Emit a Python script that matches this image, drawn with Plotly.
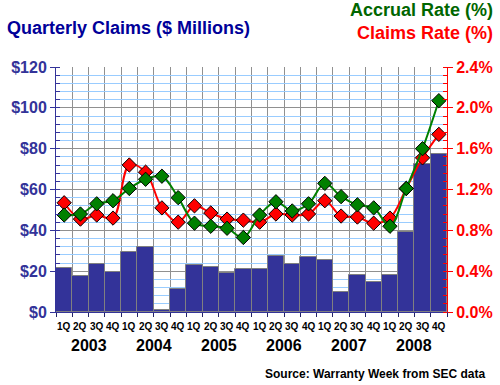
import plotly.graph_objects as go

quarters = ["1Q", "2Q", "3Q", "4Q"] * 6
years = ["2003", "2004", "2005", "2006", "2007", "2008"]
claims = [21.5, 17.6, 23.3, 19.4, 29.6, 31.6, 1.0, 11.1, 22.8, 22.0, 18.9, 21.3,
          21.3, 27.6, 23.4, 26.7, 25.7, 9.6, 18.0, 14.5, 17.9, 39.4, 72.7, 77.4]
accrual_rate = [0.95, 0.96, 1.06, 1.09, 1.21, 1.30, 1.33, 1.12, 0.87, 0.84, 0.82, 0.73,
                0.95, 1.08, 0.99, 1.06, 1.26, 1.13, 1.05, 1.02, 0.84, 1.21, 1.60, 2.07]
claims_rate = [1.07, 0.91, 0.95, 0.92, 1.44, 1.37, 1.02, 0.88, 1.04, 0.97, 0.91, 0.90,
               0.88, 0.96, 0.95, 0.96, 1.09, 0.94, 0.93, 0.87, 0.92, 1.21, 1.51, 1.74]
left_ticks = [0, 20, 40, 60, 80, 100, 120]
left_labels = ["$0", "$20", "$40", "$60", "$80", "$100", "$120"]
right_ticks = [0, 0.4, 0.8, 1.2, 1.6, 2.0, 2.4]
right_labels = ["0.0%", "0.4%", "0.8%", "1.2%", "1.6%", "2.0%", "2.4%"]

FONT = "Liberation Sans, Arial, sans-serif"
NAVY = "#333399"
x = list(range(len(claims)))

fig = go.Figure()
fig.add_trace(go.Bar(x=x, y=claims, width=1, marker=dict(color=NAVY, line=dict(color="#808080", width=1)),
                     showlegend=False))
fig.add_trace(go.Scatter(x=x, y=claims_rate, yaxis="y2", mode="lines+markers",
                         line=dict(color="#ff0000", width=2, shape="spline", smoothing=1),
                         marker=dict(symbol="diamond", size=11, color="#ff0000",
                                     line=dict(color="black", width=1)), showlegend=False))
fig.add_trace(go.Scatter(x=x, y=accrual_rate, yaxis="y2", mode="lines+markers",
                         line=dict(color="#008000", width=2, shape="spline", smoothing=1),
                         marker=dict(symbol="diamond", size=11, color="#008000",
                                     line=dict(color="black", width=1)), showlegend=False))

L, R, T, B = 56, 53, 67, 73
W, H = 500, 385
pw, ph = W - L - R, H - T - B


def px(xp, yp):
    return (xp - L) / pw, (H - B - yp) / ph


annotations = []
for i, q in enumerate(quarters):
    annotations.append(dict(x=i, y=px(0, 326)[1], xref="x", yref="paper", text=q, showarrow=False,
                            font=dict(family=FONT, size=10, color="black", weight="bold"),
                            xanchor="center", yanchor="middle"))
for k, yr in enumerate(years):
    annotations.append(dict(x=4 * k + 1.5, y=px(0, 345)[1], xref="x", yref="paper", text=yr, showarrow=False,
                            font=dict(family=FONT, size=16, color="black", weight="bold"),
                            xanchor="center", yanchor="middle"))

for text, xp, yp, size, color, anchor in [
    ("Quarterly Claims ($ Millions)", 5, 27.5, 18, "#000099", "left"),
    ("Accrual Rate (%)", 495, 10, 18, "#006600", "right"),
    ("Claims Rate (%)", 495, 33.5, 18, "#ff0000", "right"),
    ("Source: Warranty Week from SEC data", 487, 373.5, 12, "black", "right"),
]:
    ax, ay = px(xp, yp)
    annotations.append(dict(x=ax, y=ay, xref="paper", yref="paper", text=text, showarrow=False,
                            font=dict(family=FONT, size=size, color=color, weight="bold"),
                            xanchor=anchor, yanchor="middle"))

fig.update_layout(
    width=W, height=H, margin=dict(l=L, r=R, t=T, b=B, pad=0, autoexpand=False),
    paper_bgcolor="white", plot_bgcolor="white", bargap=0,
    annotations=annotations,
    xaxis=dict(range=[-0.5, 23.5], showticklabels=False, ticks="", showgrid=False, zeroline=False,
               showline=True, linecolor=NAVY, linewidth=1, fixedrange=True,
               minor=dict(tick0=-0.5, dtick=1, showgrid=True, gridcolor="#909090", gridwidth=1,
                          ticks="outside", ticklen=4, tickcolor="#222266")),
    yaxis=dict(range=[0, 120], tickvals=left_ticks, ticktext=left_labels, showgrid=True,
               gridcolor="#909090", gridwidth=1, zeroline=False, showline=True, linecolor=NAVY,
               linewidth=1, ticks="outside", ticklen=5, tickcolor=NAVY,
               tickfont=dict(family=FONT, size=16, color=NAVY, weight="bold"),
               minor=dict(dtick=4, showgrid=True, gridcolor="#99ccff", gridwidth=1,
                          ticks="inside", ticklen=4, tickcolor=NAVY)),
    yaxis2=dict(range=[0, 2.4], tickvals=right_ticks, ticktext=right_labels, overlaying="y", side="right",
                showgrid=False, zeroline=False, showline=True, linecolor="#ff0000", linewidth=1,
                ticks="outside", ticklen=5, tickcolor="#ff0000",
                tickfont=dict(family=FONT, size=16, color="#ff0000", weight="bold"),
                minor=dict(dtick=0.08, showgrid=False, ticks="inside", ticklen=4, tickcolor="#ff0000")),
)
fig.write_html("out.html", config={"displayModeBar": False},
               post_script="document.body.style.margin='0';document.body.style.overflow='hidden';")
